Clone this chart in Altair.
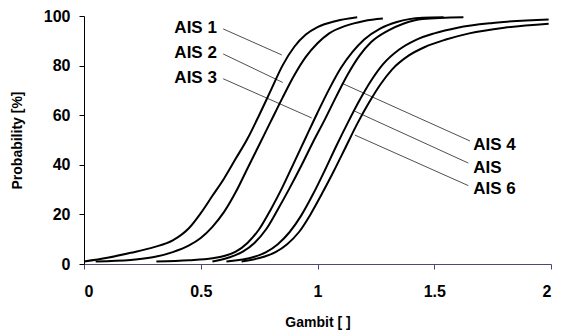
import altair as alt
import pandas as pd

# Curve data (Gambit, Probability %)
ais1_x = [0, 0.1, 0.2, 0.3, 0.38, 0.45, 0.5, 0.55, 0.6, 0.65, 0.7, 0.75, 0.8, 0.85, 0.9, 0.95, 1.0, 1.08, 1.17]
ais1_y = [1, 2.5, 4.5, 6.8, 9.5, 14.5, 20.5, 27.5, 34.5, 42.5, 50.5, 60, 70, 80, 87.5, 92.5, 95.5, 98, 99.5]

ais2_x = [0.05, 0.2, 0.3, 0.38, 0.45, 0.5, 0.55, 0.6, 0.65, 0.7, 0.75, 0.8, 0.85, 0.9, 0.95, 1.0, 1.05, 1.12, 1.2, 1.28]
ais2_y = [1, 1.6, 2.8, 4.8, 7.5, 10.5, 15, 21, 29, 38.5, 48, 57.5, 67, 76, 83.5, 89, 93, 96, 98, 99]

ais3_x = [0.31, 0.45, 0.55, 0.6, 0.65, 0.7, 0.75, 0.8, 0.85, 0.9, 0.95, 1.0, 1.05, 1.1, 1.15, 1.2, 1.27, 1.34, 1.45, 1.54]
ais3_y = [1, 1.5, 2.3, 3.2, 5, 8.5, 14, 22, 31, 41, 51, 61, 70.5, 79, 85.5, 90.5, 95, 97.6, 99.3, 99.5]

ais4_x = [0.55, 0.62, 0.68, 0.73, 0.78, 0.83, 0.88, 0.93, 0.98, 1.03, 1.08, 1.13, 1.18, 1.23, 1.3, 1.37, 1.45, 1.625]
ais4_y = [1, 2.6, 5, 8.5, 14, 22, 30.5, 39.5, 49, 58, 67.5, 76.5, 84, 89.5, 94, 97, 98.8, 99.5]

ais5_x = [0.61, 0.73, 0.78, 0.83, 0.88, 0.93, 0.98, 1.03, 1.08, 1.13, 1.18, 1.23, 1.28, 1.35, 1.42, 1.5, 1.6, 1.75, 1.99]
ais5_y = [1, 2.9, 4.8, 8, 12.8, 19.5, 28, 37.5, 47.5, 57, 66, 74, 80.5, 86.5, 90.3, 93, 95.3, 97.2, 98.6]

ais6_x = [0.675, 0.77, 0.82, 0.87, 0.92, 0.97, 1.02, 1.07, 1.12, 1.17, 1.22, 1.27, 1.32, 1.39, 1.46, 1.55, 1.65, 1.8, 1.99]
ais6_y = [1, 2.9, 4.8, 8, 12.8, 20, 28.5, 37.5, 47, 56.5, 65, 72.5, 78.5, 84, 87.5, 90.5, 93, 95.3, 96.9]

# Labels and leader lines
label_text = ["AIS 1", "AIS 2", "AIS 3", "AIS 4", "AIS", "AIS 6"]
label_x = [0.387, 0.387, 0.387, 1.667, 1.667, 1.667]
label_y = [95.2, 85.2, 74.9, 47.8, 38.9, 30.4]
leader_x1 = [0.596, 0.596, 0.596, 1.653, 1.646, 1.646]
leader_y1 = [94.8, 84.7, 74.7, 49.6, 40.7, 31.6]
leader_x2 = [0.847, 0.851, 0.975, 1.104, 1.16, 1.16]
leader_y2 = [84.3, 73.2, 58.9, 72.9, 61.6, 52.0]

series = [("AIS 1", ais1_x, ais1_y), ("AIS 2", ais2_x, ais2_y), ("AIS 3", ais3_x, ais3_y),
          ("AIS 4", ais4_x, ais4_y), ("AIS", ais5_x, ais5_y), ("AIS 6", ais6_x, ais6_y)]
rows = []
for name, xs, ys in series:
    for i, (xv, yv) in enumerate(zip(xs, ys)):
        rows.append({"series": name, "x": xv, "y": yv, "i": i})
curves = pd.DataFrame(rows)

labels = pd.DataFrame({"text": label_text, "x": label_x, "y": label_y})
leaders = pd.DataFrame({"x": leader_x1, "y": leader_y1, "x2": leader_x2, "y2": leader_y2})

FONT = "Liberation Sans"
xscale = alt.Scale(domain=[0, 2], nice=False)
yscale = alt.Scale(domain=[0, 100], nice=False)

lines = alt.Chart(curves).mark_line(color="black", strokeWidth=2, interpolate="monotone").encode(
    x=alt.X("x:Q", scale=xscale,
            axis=alt.Axis(title="Gambit [ ]", values=[0, 0.5, 1, 1.5, 2], format="~g",
                          grid=False, domainColor="#4a4a7a", tickColor="#4a4a7a",
                          tickSize=5, labelPadding=14, titlePadding=16)),
    y=alt.Y("y:Q", scale=yscale,
            axis=alt.Axis(title="Probability [%]", values=[0, 20, 40, 60, 80, 100],
                          grid=False, domainColor="black", tickColor="black",
                          tickSize=5, labelPadding=9, titlePadding=19)),
    detail="series:N",
    order="i:Q",
)

leader_rules = alt.Chart(leaders).mark_rule(color="#222222", strokeWidth=0.8).encode(
    x="x:Q", y="y:Q", x2="x2:Q", y2="y2:Q"
)

texts = alt.Chart(labels).mark_text(align="left", baseline="middle", font=FONT,
                                    fontWeight="bold", fontSize=17, color="black").encode(
    x="x:Q", y="y:Q", text="text:N"
)

chart = alt.layer(leader_rules, lines, texts).properties(
    width=467, height=248,
    autosize=alt.AutoSizeParams(type="none"),
    padding={"left": 76, "top": 8, "right": 7, "bottom": 70},
).configure_view(stroke=None).configure_axis(
    labelFont=FONT, labelFontWeight="bold", labelFontSize=16, labelColor="black",
    titleFont=FONT, titleFontWeight="bold", titleFontSize=14, titleColor="black",
)

chart.save("out.html", embed_options={"renderer": "svg", "actions": False})
